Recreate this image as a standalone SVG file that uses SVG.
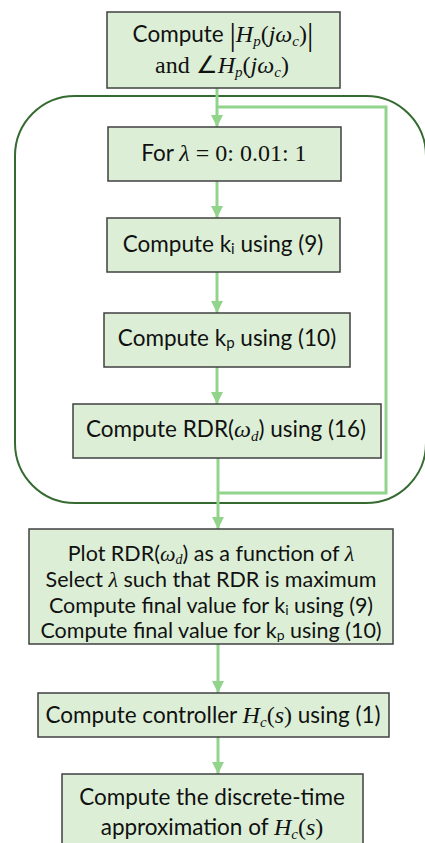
<svg xmlns="http://www.w3.org/2000/svg" width="425" height="843" viewBox="0 0 425 843">
<style>
.box{fill:#dcefd6;stroke:#404040;stroke-width:1.5}
.t{font-family:Lato,"Noto Sans",sans-serif;font-size:22.5px;fill:#111;text-anchor:middle}
.m{font-family:"Liberation Serif",serif;font-style:italic;font-size:24px}
.r{font-family:"Liberation Serif",serif;font-size:24px}
.sub{font-size:15px}
.s6{font-size:21.5px}
.s6 .m{font-size:22px}
.s6 .sub{font-size:14px}
.bar{font-family:"Liberation Serif",serif;font-size:32px}
.ln{fill:none;stroke:#92d48b;stroke-width:3}
.loop{fill:none;stroke:#356b30;stroke-width:2}
</style>
<defs>
<marker id="ah" viewBox="0 0 10 10" refX="10" refY="5" markerWidth="4" markerHeight="4" orient="auto" markerUnits="strokeWidth">
<path d="M0,0 L10,5 L0,10 z" fill="#92d48b"/>
</marker>
</defs>
<g id="loop"><rect class="loop" x="15" y="96" width="411" height="407" rx="60" ry="60"/></g>
<g id="connectors">
<polyline class="ln" points="217,107 386,107 386,493 217,493"/>
<line class="ln" x1="217" y1="88" x2="217" y2="127" marker-end="url(#ah)"/>
<line class="ln" x1="217" y1="181" x2="217" y2="218" marker-end="url(#ah)"/>
<line class="ln" x1="217" y1="272" x2="217" y2="313" marker-end="url(#ah)"/>
<line class="ln" x1="217" y1="367" x2="217" y2="404" marker-end="url(#ah)"/>
<line class="ln" x1="218" y1="458" x2="218" y2="529" marker-end="url(#ah)"/>
<line class="ln" x1="218" y1="644" x2="218" y2="693" marker-end="url(#ah)"/>
<line class="ln" x1="218" y1="737" x2="218" y2="774" marker-end="url(#ah)"/>
</g>
<g id="n1">
<rect class="box" x="107" y="12" width="233" height="76"/>
<text class="t" x="223" y="42">Compute <tspan class="bar" dy="3">|</tspan><tspan class="m" dy="-3">H</tspan><tspan class="m sub" dy="4">p</tspan><tspan class="r" dy="-4">(</tspan><tspan class="m">jω</tspan><tspan class="m sub" dy="4">c</tspan><tspan class="r" dy="-4">)</tspan><tspan class="bar" dy="3">|</tspan></text>
<text class="t r" x="222" y="73">and ∠<tspan class="m">H</tspan><tspan class="m sub" dy="4">p</tspan><tspan dy="-4">(</tspan><tspan class="m">jω</tspan><tspan class="m sub" dy="4">c</tspan><tspan dy="-4">)</tspan></text>
</g>
<g id="n2">
<rect class="box" x="108" y="127" width="233" height="54"/>
<text class="t" x="224" y="161">For <tspan class="m">λ</tspan><tspan class="r"> = 0: 0.01: 1</tspan></text>
</g>
<g id="n3">
<rect class="box" x="107" y="218" width="233" height="54"/>
<text class="t" x="223" y="252">Compute k<tspan class="sub" dy="2">i</tspan><tspan dy="-2"> using (9)</tspan></text>
</g>
<g id="n4">
<rect class="box" x="104" y="313" width="246" height="54"/>
<text class="t" x="227" y="346">Compute k<tspan class="sub" dy="2">p</tspan><tspan dy="-2"> using (10)</tspan></text>
</g>
<g id="n5">
<rect class="box" x="73" y="404" width="308" height="54"/>
<text class="t" x="226" y="437">Compute RDR(<tspan class="m">ω</tspan><tspan class="m sub" dy="4">d</tspan><tspan dy="-4">) using (16)</tspan></text>
</g>
<g id="n6">
<rect class="box" x="29" y="529" width="364" height="115"/>
<text class="t s6" x="211" y="561">Plot RDR(<tspan class="m">ω</tspan><tspan class="m sub" dy="3">d</tspan><tspan dy="-3">) as a function of </tspan><tspan class="m">λ</tspan></text>
<text class="t s6" x="211" y="587">Select <tspan class="m">λ</tspan> such that RDR is maximum</text>
<text class="t s6" x="211" y="613">Compute final value for k<tspan class="sub" dy="2">i</tspan><tspan dy="-2"> using (9)</tspan></text>
<text class="t s6" x="211" y="638">Compute final value for k<tspan class="sub" dy="2">p</tspan><tspan dy="-2"> using (10)</tspan></text>
</g>
<g id="n7">
<rect class="box" x="38" y="693" width="351" height="44"/>
<text class="t" x="213" y="723">Compute controller <tspan class="m">H</tspan><tspan class="m sub" dy="4">c</tspan><tspan class="r" dy="-4">(</tspan><tspan class="m">s</tspan><tspan class="r">)</tspan> using (1)</text>
</g>
<g id="n8">
<rect class="box" x="62" y="774" width="301" height="80"/>
<text class="t" x="212" y="805">Compute the discrete-time</text>
<text class="t" x="212" y="835">approximation of <tspan class="m">H</tspan><tspan class="m sub" dy="4">c</tspan><tspan class="r" dy="-4">(</tspan><tspan class="m">s</tspan><tspan class="r">)</tspan></text>
</g>
</svg>
